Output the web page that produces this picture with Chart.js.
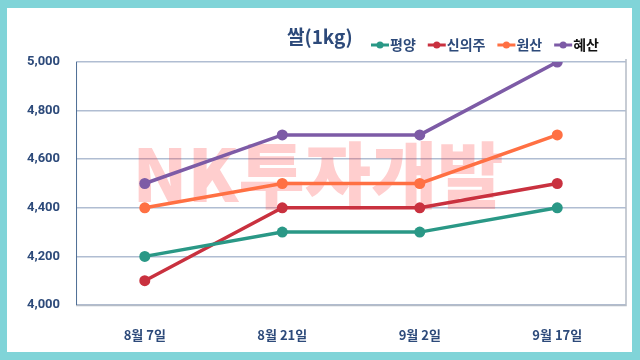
<!DOCTYPE html>
<html><head><meta charset="utf-8">
<script src="https://cdn.jsdelivr.net/npm/chart.js@4/dist/chart.umd.min.js"></script>
<style>
html,body{margin:0;padding:0;background:#80d4d8;}
#card{position:absolute;left:7px;top:8px;width:625px;height:344px;background:#fff;}
#wrap{position:absolute;left:0;top:0;width:640px;height:360px;}
</style></head><body>
<div id="card"></div>
<div id="wrap"><canvas id="c" width="640" height="360"></canvas></div>
<script>
const categories = ['8월 7일', '8월 21일', '9월 2일', '9월 17일'];
const pyongyang = [4200, 4300, 4300, 4400];
const sinuiju = [4100, 4400, 4400, 4500];
const wonsan = [4400, 4500, 4500, 4700];
const hyesan = [4500, 4700, 4700, 5000];
const seriesNames = ['평양', '신의주', '원산', '혜산'];
const titleText = '쌀(1kg)';
const watermark = 'NK투자개발';

const colors = ['#2a9886', '#c9313f', '#ff7043', '#7d5ba6'];
const dataArr = [pyongyang, sinuiju, wonsan, hyesan];

const wmPlugin = {
  id: 'wm',
  beforeDatasetsDraw(chart) {
    const ctx = chart.ctx;
    ctx.save();
    ctx.font = '900 72px "Noto Sans CJK KR"';
    ctx.fillStyle = 'rgba(255,60,60,0.25)';
    ctx.textAlign = 'center';
    ctx.textBaseline = 'middle';
    ctx.fillText(watermark, 318, 175);
    ctx.restore();
  }
};
const framePlugin = {
  id: 'frame',
  beforeDatasetsDraw(chart) {
    const a = chart.chartArea, ctx = chart.ctx;
    ctx.save();
    ctx.strokeStyle = '#b5bcc6';
    ctx.lineWidth = 1.5;
    ctx.beginPath();
    ctx.moveTo(a.left, a.bottom + 0.5);
    ctx.lineTo(a.right, a.bottom + 0.5);
    ctx.lineTo(a.right, a.top - 3);
    ctx.stroke();
    ctx.strokeStyle = '#4d6d94';
    ctx.lineWidth = 1;
    ctx.beginPath();
    ctx.moveTo(a.left + 0.5, a.top);
    ctx.lineTo(a.left + 0.5, a.bottom);
    ctx.stroke();
    ctx.restore();
  }
};

new Chart(document.getElementById('c'), {
  type: 'line',
  data: {
    labels: categories,
    datasets: dataArr.map((d, i) => ({
      label: seriesNames[i],
      data: d,
      borderColor: colors[i],
      backgroundColor: colors[i],
      borderWidth: 3.5,
      pointRadius: 5.5,
      pointHoverRadius: 5.5,
      pointBorderWidth: 0,
      tension: 0
    }))
  },
  options: {
    responsive: false,
    animation: false,
    layout: { padding: { left: 11, right: 14, top: 62, bottom: 15 } },
    plugins: {
      title: { display: false },
      legend: { display: false },
      tooltip: { enabled: false }
    },
    scales: {
      x: {
        offset: true,
        grid: { display: false },
        border: { display: false },
        afterFit: s => { s.height = 40; },
        ticks: { color: '#2d4a7a', font: { family: '"Noto Sans CJK KR"', size: 13, weight: 'bold' }, padding: 14 }
      },
      y: {
        min: 4000, max: 5000,
        grid: { color: '#b0bdd2', lineWidth: 1.5, drawTicks: false },
        border: { display: false },
        ticks: { stepSize: 200, color: '#2d4a7a', padding: 16,
          font: { family: 'Roboto', size: 13, weight: 'bold' },
          callback: v => v.toLocaleString('en-US') }
      }
    }
  },
  plugins: [wmPlugin, framePlugin, {
    id: 'hdr',
    afterDraw(chart) {
      const ctx = chart.ctx;
      ctx.save();
      ctx.font = 'bold 19px "Noto Sans CJK KR"';
      ctx.fillStyle = '#2d4a7a';
      ctx.textBaseline = 'middle';
      ctx.textAlign = 'left';
      ctx.fillText(titleText, 287, 37);
      let x = 371;
      const y = 45;
      ctx.font = 'bold 14px "Noto Sans CJK KR"';
      seriesNames.forEach((n, i) => {
        ctx.strokeStyle = colors[i];
        ctx.fillStyle = colors[i];
        ctx.lineWidth = 3;
        ctx.beginPath(); ctx.moveTo(x, y); ctx.lineTo(x + 18, y); ctx.stroke();
        ctx.beginPath(); ctx.arc(x + 9, y, 3.5, 0, Math.PI * 2); ctx.fill();
        ctx.fillStyle = i === 3 ? '#111' : '#2d4a7a';
        ctx.fillText(n, x + 19, y);
        x += 19 + ctx.measureText(n).width + 12;
      });
      ctx.restore();
    }
  }]
});
</script></body></html>
